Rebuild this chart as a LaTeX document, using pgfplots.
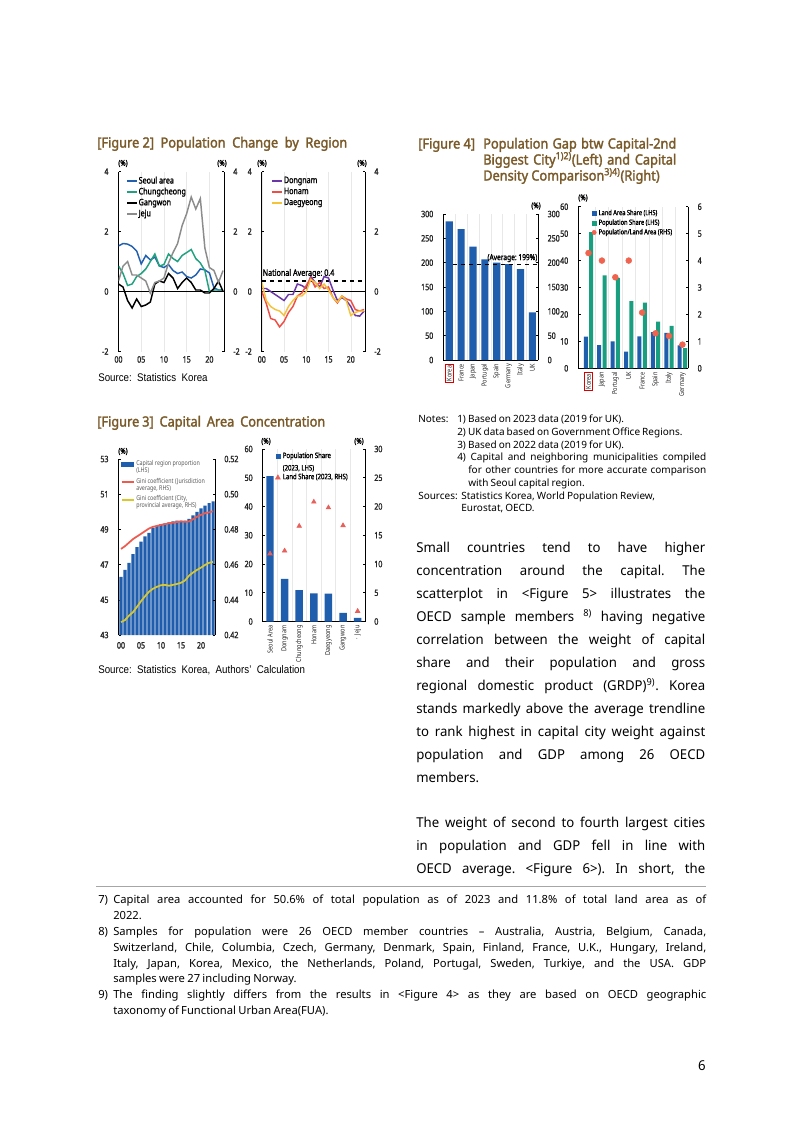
\documentclass[border=0pt]{standalone}
\usepackage{fontspec}
\usepackage{pgfplots}
\pgfplotsset{compat=1.18}
\setmainfont{Noto Sans}
\newfontfamily\bodyf[FakeStretch=0.97, WordSpace=0.8]{Noto Sans}
\newfontfamily\footf[WordSpace=0.8]{Noto Sans}
\newfontfamily\chartf[FakeStretch=0.8, BoldFont={Noto Sans}, BoldFeatures={FakeBold=1.5}]{Noto Sans}
\newfontfamily\srcf[FakeStretch=0.88]{Liberation Sans}
\newfontfamily\ttlf[FakeStretch=0.91, BoldFont={Noto Sans}, BoldFeatures={FakeBold=2}]{Noto Sans}
\definecolor{ttl}{RGB}{122,90,40}
\definecolor{cSeoul}{RGB}{33,96,174}
\definecolor{cChung}{RGB}{33,161,127}
\definecolor{cJeju}{RGB}{140,140,140}
\definecolor{cDong}{RGB}{106,54,168}
\definecolor{cHonam}{RGB}{240,78,69}
\definecolor{cDae}{RGB}{245,195,59}
\definecolor{barblue}{RGB}{31,93,173}
\definecolor{tealb}{RGB}{26,158,128}
\definecolor{dotred}{RGB}{240,100,79}
\definecolor{tri}{RGB}{232,96,90}
\definecolor{redl}{RGB}{238,90,78}
\definecolor{yell}{RGB}{217,199,43}
\newcommand\kbox[1]{{\setlength\fboxsep{0.8pt}\setlength\fboxrule{0.6pt}\fcolorbox{red!85!black}{white}{#1}}}
\newcommand\bl[2]{\node[anchor=base west, inner sep=0pt] at (416,#1) {\bodyf\fontsize{10.2}{12}\selectfont\makebox[216.75pt][s]{#2}};}
\newcommand\blp[2]{\node[anchor=base west, inner sep=0pt] at (416,#1) {\bodyf\fontsize{10.2}{12}\selectfont #2};}
\newcommand\fl[3]{\node[anchor=base west, inner sep=0pt] at (#1,#2) {\footf\fontsize{8.4}{10}\selectfont #3};}
\newcommand\nl[3]{\node[anchor=base west, inner sep=0pt] at (#1,#2) {\footf\fontsize{7.5}{9}\selectfont #3};}
\newcommand\pct[2]{\node[inner sep=0pt] at (#1,#2) {\chartf\bfseries\fontsize{6}{7}\selectfont(\%)};}
\newcommand\ttl[1]{\ttlf\bfseries\fontsize{10.5}{12}\selectfont\color{ttl}#1}
\pgfplotsset{
  kb/.style={scale only axis, anchor=south west, /pgf/number format/assume math mode=true,
    tick label style={font=\chartf\bfseries\fontsize{6.6}{7}\selectfont, text=black!85},
    tick align=inside, major tick length=1.8pt, minor tick length=0pt,
    every tick/.style={black, line width=0.4pt},
    axis line style={-, black, line width=0.5pt},
    legend cell align=left},
  kl/.style={axis y line*=left, axis x line*=bottom, yticklabel style={xshift=-4pt}},
  kr/.style={axis y line*=right, axis x line=none, yticklabel style={xshift=3.5pt}},
  kcat/.style={xticklabel style={rotate=90, anchor=east, font=\chartf\mdseries\fontsize{5.2}{6}\selectfont, inner sep=1pt}, xtick style={draw=none}},
}
\begin{document}
\frenchspacing
\begin{tikzpicture}
\begin{scope}[x=0.75pt,y=-0.75pt]
\fill[white] (0,0) rectangle (802,1133);
\path[use as bounding box] (0,0) rectangle (802,1133);
\coordinate (F2L) at (118.5,351.5);
\coordinate (F2R) at (261.8,351.5);
\coordinate (F3L) at (118.5,635);
\coordinate (F3R) at (262.7,621.5);
\coordinate (F4L) at (443.3,360);
\coordinate (F4R) at (578.3,368.3);
% titles
\node[anchor=base west, inner sep=0pt] at (97,147.5) {\ttl{\makebox[187.5pt][s]{[Figure 2] \ Population \ Change \ by \ Region}}};
\node[anchor=base west, inner sep=0pt] at (97,426.5) {\ttl{\makebox[171pt][s]{[Figure 3] \ Capital \ Area \ Concentration}}};
\node[anchor=base west, inner sep=0pt] at (418,148.5) {\ttl{[Figure 4]}};
\node[anchor=base west, inner sep=0pt] at (483,148.5) {\ttl{\makebox[144.75pt][s]{Population Gap btw Capital-2nd}}};
\node[anchor=base west, inner sep=0pt] at (483,164.5) {\ttl{\makebox[144.75pt][s]{Biggest City\textsuperscript{1)2)}(Left) and Capital}}};
\node[anchor=base west, inner sep=0pt] at (483,180.5) {\ttl{Density Comparison\textsuperscript{3)4)}(Right)}};
% sources
\node[anchor=base west, inner sep=0pt] at (98,381.5) {\srcf\fontsize{8.3}{10}\selectfont Source:\ \ Statistics\ \ Korea};
\node[anchor=base west, inner sep=0pt] at (98,673.5) {\srcf\fontsize{8.3}{10}\selectfont Source:\ \ Statistics\ \ Korea,\ \ Authors’\ \ Calculation};
% (%) labels
\pct{123}{163.5}\pct{222}{163.5}\pct{262}{163.5}\pct{362}{163.5}
\pct{123}{451.5}\pct{266}{441.5}\pct{359}{441.5}
\pct{536}{206}\pct{583}{198}
% notes fig 4
\nl{418}{422.5}{Notes:}
\nl{457}{422.5}{1)\ Based on 2023 data (2019 for UK).}
\nl{457}{435.5}{2)\ UK data based on Government Office Regions.}
\nl{457}{448}{3)\ Based on 2022 data (2019 for UK).}
\nl{457}{460.5}{\makebox[186.75pt][s]{4)\ Capital and neighboring municipalities compiled}}
\nl{468}{473.5}{\makebox[178.5pt][s]{for other countries for more accurate comparison}}
\nl{468}{486}{with Seoul capital region.}
\nl{418}{499}{Sources:}
\nl{461}{499}{Statistics Korea, World Population Review,}
\nl{461}{511.5}{Eurostat, OECD.}
% body text
\bl{552.5}{Small countries tend to have higher}
\bl{575.5}{concentration around the capital. The}
\bl{598.5}{scatterplot in <Figure 5> illustrates the}
\bl{621.5}{OECD sample members \textsuperscript{8)} having negative}
\bl{644.5}{correlation between the weight of capital}
\bl{667.5}{share and their population and gross}
\bl{690.5}{regional domestic product (GRDP)\textsuperscript{9)}. Korea}
\bl{713.5}{stands markedly above the average trendline}
\bl{736.5}{to rank highest in capital city weight against}
\bl{759.5}{population and GDP among 26 OECD}
\blp{782.5}{members.}
\bl{827.5}{The weight of second to fourth largest cities}
\bl{850.5}{in population and GDP fell in line with}
\bl{873.5}{OECD average. <Figure 6>). In short, the}
% rule and footnotes
\draw[gray!70, line width=0.6pt] (96,886) -- (706,886);
\fl{98}{903.5}{7)}
\fl{113}{903.5}{\makebox[444.75pt][s]{Capital area accounted for 50.6\% of total population as of 2023 and 11.8\% of total land area as of}}
\fl{113}{919.5}{2022.}
\fl{98}{935.5}{8)}
\fl{113}{935.5}{\makebox[444.75pt][s]{Samples for population were 26 OECD member countries – Australia, Austria, Belgium, Canada,}}
\fl{113}{951.5}{\makebox[444.75pt][s]{Switzerland, Chile, Columbia, Czech, Germany, Denmark, Spain, Finland, France, U.K., Hungary, Ireland,}}
\fl{113}{967.5}{\makebox[444.75pt][s]{Italy, Japan, Korea, Mexico, the Netherlands, Poland, Portugal, Sweden, Turkiye, and the USA. GDP}}
\fl{113}{982.5}{samples were 27 including Norway.}
\fl{98}{998.5}{9)}
\fl{113}{998.5}{\makebox[444.75pt][s]{The finding slightly differs from the results in <Figure 4> as they are based on OECD geographic}}
\fl{113}{1014.5}{taxonomy of Functional Urban Area(FUA).}
\node[anchor=base east, inner sep=0pt] at (706,1070) {\bodyf\fontsize{10.2}{12}\selectfont 6};
\end{scope}

%================ Figure 2 left
\begin{axis}[kb, kl, at={(F2L)}, width=79.1pt, height=135pt,
  xmin=0, xmax=23.2, ymin=-2, ymax=4,
  x axis line style={draw=none}, xtick style={draw=none},
  xtick={0,5,10,15,20}, xticklabels={00,05,10,15,20},
  ytick={-2,0,2,4}, yticklabels={-2,0,2,4},
  xmajorgrids, grid style={gray!18, line width=0.4pt},
  legend style={at={(0.07,0.975)}, anchor=north west, draw=none, fill=none, inner sep=0pt, row sep=0.9pt,
    font=\chartf\bfseries\fontsize{6.7}{7}\selectfont, nodes={inner sep=0.5pt, text height=4.9pt, text depth=1.4pt}},
  legend image code/.code={\draw[#1, line width=1.4pt] (0pt,0pt)--(7.5pt,0pt);},
  every axis plot/.append style={line width=1.1pt, no marks}]
\addplot[black, line width=0.6pt, forget plot] coordinates {(0,0) (23.2,0)};
\addplot[cSeoul] coordinates {(0,1.52)(1,1.6)(2,1.58)(3,1.5)(4,1.35)(5,0.92)(6,1.2)(7,1.05)(8,1.15)(9,0.85)(10,0.8)(11,0.9)(12,0.7)(13,0.6)(14,0.65)(15,0.5)(16,0.45)(17,0.55)(18,0.75)(19,0.72)(20,0.62)(21,0.12)(22,0.05)(23,0.05)};
\addlegendentry{Seoul area}
\addplot[cChung] coordinates {(0,0.85)(1,0.6)(2,0.2)(3,0.25)(4,0.5)(5,0.6)(6,0.75)(7,1.0)(8,1.25)(9,0.85)(10,0.9)(11,1.25)(12,1.1)(13,1.0)(14,1.2)(15,1.3)(16,1.4)(17,1.1)(18,0.95)(19,0.7)(20,0.0)(21,0.05)(22,0.05)(23,0.05)};
\addlegendentry{Chungcheong}
\addplot[black] coordinates {(0,0.25)(1,0.15)(2,-0.3)(3,-0.55)(4,-0.25)(5,-0.5)(6,-0.45)(7,-0.35)(8,0.25)(9,0.35)(10,0.3)(11,0.6)(12,0.45)(13,0.1)(14,0.3)(15,0.45)(16,0.3)(17,0.05)(18,0.05)(19,-0.05)(20,-0.05)(21,0.1)(22,0.35)(23,0.0)};
\addlegendentry{Gangwon}
\addplot[cJeju] coordinates {(0,0.35)(1,0.85)(2,1.0)(3,0.55)(4,0.55)(5,0.45)(6,0.35)(7,-0.05)(8,0.3)(9,0.35)(10,0.45)(11,0.95)(12,1.3)(13,1.6)(14,2.2)(15,2.6)(16,3.15)(17,2.75)(18,3.1)(19,1.45)(20,0.8)(21,0.7)(22,0.3)(23,0.7)};
\addlegendentry{Jeju}
\end{axis}
\begin{axis}[kb, kr, at={(F2L)}, width=79.1pt, height=135pt,
  xmin=0, xmax=23.2, ymin=-2, ymax=4, ytick={-2,0,2,4}, yticklabels={-2,0,2,4}]
\end{axis}

%================ Figure 2 right
\begin{axis}[kb, kl, at={(F2R)}, width=77.4pt, height=135pt,
  xmin=0, xmax=23.2, ymin=-2, ymax=4,
  x axis line style={draw=none}, xtick style={draw=none},
  xtick={0,5,10,15,20}, xticklabels={00,05,10,15,20},
  ytick={-2,0,2,4}, yticklabels={-2,0,2,4},
  xmajorgrids, grid style={gray!18, line width=0.4pt},
  legend style={at={(0.09,0.977)}, anchor=north west, draw=none, fill=none, inner sep=0pt, row sep=0.9pt,
    font=\chartf\bfseries\fontsize{6.7}{7}\selectfont, nodes={inner sep=0.5pt, text height=4.9pt, text depth=1.4pt}},
  legend image code/.code={\draw[#1, line width=1.4pt] (0pt,0pt)--(7.5pt,0pt);},
  every axis plot/.append style={line width=1.1pt, no marks}]
\addplot[black, line width=0.6pt, forget plot] coordinates {(0,0) (23.2,0)};
\addplot[black, dashed, line width=0.9pt, forget plot] coordinates {(0,0.35) (23.2,0.35)};
\addplot[cDong] coordinates {(0,0.1)(1,0.1)(2,0.0)(3,-0.1)(4,-0.2)(5,-0.3)(6,-0.1)(7,-0.1)(8,0.25)(9,0.2)(10,0.1)(11,0.5)(12,0.3)(13,0.15)(14,0.5)(15,0.45)(16,0.05)(17,-0.3)(18,-0.2)(19,-0.3)(20,-0.5)(21,-0.8)(22,-0.82)(23,-0.65)};
\addlegendentry{Dongnam}
\addplot[cHonam] coordinates {(0,0.0)(1,-0.4)(2,-0.9)(3,-0.95)(4,-1.18)(5,-1.0)(6,-0.7)(7,-0.5)(8,-0.15)(9,-0.05)(10,0.2)(11,0.45)(12,0.15)(13,0.3)(14,0.1)(15,0.15)(16,-0.2)(17,-0.38)(18,-0.15)(19,-0.25)(20,-0.3)(21,-0.6)(22,-0.65)(23,-0.6)};
\addlegendentry{Honam}
\addplot[cDae] coordinates {(0,0.3)(1,-0.3)(2,-0.5)(3,-0.6)(4,-0.65)(5,-0.8)(6,-0.5)(7,-0.3)(8,-0.15)(9,-0.15)(10,0.0)(11,0.4)(12,0.3)(13,0.1)(14,0.25)(15,0.05)(16,-0.2)(17,-0.35)(18,-0.15)(19,-0.3)(20,-0.8)(21,-0.7)(22,-0.65)(23,-0.65)};
\addlegendentry{Daegyeong}
\node[anchor=south west, inner sep=0.5pt, font=\chartf\bfseries\fontsize{6.7}{7}\selectfont] at (axis cs:0,0.42) {National Average: 0.4};
\end{axis}
\begin{axis}[kb, kr, at={(F2R)}, width=77.4pt, height=135pt,
  xmin=0, xmax=23.2, ymin=-2, ymax=4, ytick={-2,0,2,4}, yticklabels={-2,0,2,4}]
\end{axis}

%================ Figure 3 left
\begin{axis}[kb, kl, at={(F3L)}, width=72.4pt, height=132pt,
  xmin=-0.625, xmax=23.5, ymin=43, ymax=53,
  ytick={43,45,47,49,51,53}, yticklabels={43,45,47,49,51,53},
  xtick={0,5,10,15,20}, xticklabels={00,05,10,15,20},
  x axis line style={draw=none}, xtick style={draw=none},
  ybar, bar width=2.3pt]
\addplot[fill=barblue, draw=none] coordinates {(0,46.3)(1,46.7)(2,47.1)(3,47.6)(4,48.0)(5,48.3)(6,48.6)(7,48.8)(8,49.1)(9,49.2)(10,49.3)(11,49.35)(12,49.4)(13,49.45)(14,49.5)(15,49.5)(16,49.5)(17,49.6)(18,49.8)(19,50.0)(20,50.2)(21,50.35)(22,50.5)(23,50.6)};
\end{axis}
\begin{axis}[kb, kr, at={(F3L)}, width=72.4pt, height=132pt,
  xmin=-0.625, xmax=23.5, ymin=0.42, ymax=0.52,
  ytick={0.42,0.44,0.46,0.48,0.50,0.52}, yticklabels={0.42,0.44,0.46,0.48,0.50,0.52},
  legend style={at={(0.02,0.995)}, anchor=north west, draw=none, fill=none, inner sep=0pt, row sep=1.6pt, column sep=1pt,
    font=\chartf\mdseries\fontsize{5}{5.4}\selectfont, text=black!65, nodes={inner sep=0.4pt, align=left}},
  legend image code/.code={\draw[#1, line width=1.3pt] (0pt,2.3pt)--(9pt,2.3pt);},
  every axis plot/.append style={no marks}]
\addlegendimage{legend image code/.code={\fill[barblue] (0pt,0.8pt) rectangle (9pt,3.8pt);}}
\addlegendentry{Capital region proportion\\(LHS)}
\addplot[redl, line width=1.3pt] coordinates {(0,0.4689)(1,0.4705)(2,0.4725)(3,0.4745)(4,0.476)(5,0.4775)(6,0.479)(7,0.4805)(8,0.4815)(9,0.482)(10,0.4826)(11,0.483)(12,0.4835)(13,0.4838)(14,0.4842)(15,0.4845)(16,0.4843)(17,0.4845)(18,0.4858)(19,0.4872)(20,0.4883)(21,0.4892)(22,0.4897)(23,0.4903)};
\addlegendentry{Gini coefficient (Jurisdiction\\average, RHS)}
\addplot[yell, line width=1.3pt] coordinates {(0,0.4273)(1,0.4285)(2,0.431)(3,0.433)(4,0.436)(5,0.4392)(6,0.442)(7,0.4446)(8,0.4463)(9,0.4474)(10,0.4483)(11,0.4485)(12,0.448)(13,0.4485)(14,0.449)(15,0.4497)(16,0.451)(17,0.4537)(18,0.4555)(19,0.457)(20,0.4583)(21,0.4598)(22,0.461)(23,0.4616)};
\addlegendentry{Gini coefficient (City,\\provincial average, RHS)}
\end{axis}

%================ Figure 3 right
\begin{axis}[kb, kl, kcat, at={(F3R)}, width=76.7pt, height=129.4pt,
  xmin=-0.5, xmax=6.5, ymin=0, ymax=60,
  ytick={0,10,20,30,40,50,60}, yticklabels={0,10,20,30,40,50,60},
  xtick={0,...,6}, xticklabels={Seoul Area,Dongnam,Chungcheong,Honam,Daegyeong,Gangwon,{·\ \ Jeju}},
  minor xtick={0.5,1.5,...,5.5}, xminorgrids, minor grid style={gray!18, line width=0.4pt},
  ybar, bar width=5.6pt]
\addplot[fill=barblue, draw=none] coordinates {(0,50.6)(1,14.8)(2,10.9)(3,9.8)(4,9.7)(5,3.0)(6,1.3)};
\end{axis}
\begin{axis}[kb, kr, at={(F3R)}, width=76.7pt, height=129.4pt,
  xmin=-0.5, xmax=6.5, ymin=0, ymax=30,
  ytick={0,5,10,15,20,25,30}, yticklabels={0,5,10,15,20,25,30},
  legend style={at={(0.12,0.985)}, anchor=north west, draw=none, fill=none, inner sep=0pt, row sep=0pt, column sep=1.3pt,
    font=\chartf\bfseries\fontsize{5.6}{9.3}\selectfont, nodes={inner sep=0.4pt, align=left}}]
\addlegendimage{legend image code/.code={\fill[barblue] (0.5pt,2.8pt) rectangle (3.5pt,5.8pt);}}
\addlegendentry{Population Share\\(2023, LHS)}
\addplot[only marks, mark=triangle*, mark size=2pt, color=tri,
  legend image code/.code={\fill[tri] (0.2pt,-1.3pt) -- (3.8pt,-1.3pt) -- (2pt,1.9pt) -- cycle;}] coordinates {(0,11.8)(1,12.3)(2,16.6)(3,20.8)(4,19.8)(5,16.7)(6,1.8)};
\addlegendentry{Land Share (2023, RHS)}
\end{axis}

%================ Figure 4 left
\begin{axis}[kb, kl, kcat, at={(F4L)}, width=71.25pt, height=109.5pt,
  xmin=-0.5, xmax=7.5, ymin=0, ymax=300,
  ytick={0,50,...,300}, yticklabels={0,50,100,150,200,250,300},
  xtick={0,...,7}, xticklabels={{\kbox{Korea}},France,Japan,Portugal,Spain,Germany,Italy,UK},
  minor xtick={0.5,1.5,...,6.5}, xminorgrids, minor grid style={gray!18, line width=0.4pt},
  ybar, bar width=5.3pt]
\addplot[fill=barblue, draw=none] coordinates {(0,285)(1,269)(2,233)(3,207)(4,200)(5,197)(6,187)(7,98)};
\end{axis}
\begin{axis}[kb, kr, at={(F4L)}, width=71.25pt, height=109.5pt,
  xmin=-0.5, xmax=7.5, ymin=0, ymax=300,
  ytick={0,50,...,300}, yticklabels={0,50,100,150,200,250,300}]
\addplot[black, dashed, line width=0.8pt, no marks] coordinates {(0.3,196) (7.5,196)};
\node[anchor=south east, inner sep=0.6pt, font=\chartf\bfseries\fontsize{6.2}{7}\selectfont] at (axis cs:7.5,199) {(Average: 199\%)};
\end{axis}

%================ Figure 4 right
\begin{axis}[kb, kl, kcat, at={(F4R)}, width=82.5pt, height=121.2pt,
  xmin=-0.76, xmax=7.44, ymin=0, ymax=60,
  ytick={0,10,20,30,40,50,60}, yticklabels={0,10,20,30,40,50,60},
  xtick={0,...,7}, xticklabels={{\kbox{Korea}},Japan,Portugal,UK,France,Spain,Italy,Germany},
  minor xtick={0.5,1.5,...,6.5}, xminorgrids, minor grid style={gray!18, line width=0.4pt},
  ybar=1pt, bar width=3pt]
\addplot[fill=barblue, draw=none] coordinates {(0,11.8)(1,8.6)(2,10.0)(3,6.2)(4,11.9)(5,13.4)(6,13.2)(7,8.5)};
\addplot[fill=tealb, draw=none] coordinates {(0,50.6)(1,34.5)(2,33.6)(3,24.9)(4,24.4)(5,17.3)(6,15.8)(7,7.5)};
\end{axis}
\begin{axis}[kb, kr, at={(F4R)}, width=82.5pt, height=121.2pt,
  xmin=-0.76, xmax=7.44, ymin=0, ymax=6,
  ytick={0,1,2,3,4,5,6}, yticklabels={0,1,2,3,4,5,6},
  legend style={at={(0.12,0.985)}, anchor=north west, draw=none, fill=none, inner sep=0pt, row sep=1.4pt, column sep=1.2pt,
    font=\chartf\bfseries\fontsize{5.3}{6}\selectfont, nodes={inner sep=0.4pt, text height=3.9pt, text depth=1.1pt}}]
\addlegendimage{legend image code/.code={\fill[barblue] (0.3pt,-1.5pt) rectangle (3.1pt,1.5pt);}}
\addlegendentry{Land Area Share (LHS)}
\addlegendimage{legend image code/.code={\fill[tealb] (0.3pt,-1.5pt) rectangle (3.1pt,1.5pt);}}
\addlegendentry{Population Share (LHS)}
\addplot[only marks, mark=*, mark size=2.2pt, color=dotred,
  legend image code/.code={\fill[dotred] (1.7pt,0pt) circle (1.6pt);}] coordinates {(0,4.28)(1,4.0)(2,3.38)(3,4.0)(4,2.07)(5,1.3)(6,1.2)(7,0.88)};
\addlegendentry{Population/Land Area (RHS)}
\end{axis}
\end{tikzpicture}
\end{document}
